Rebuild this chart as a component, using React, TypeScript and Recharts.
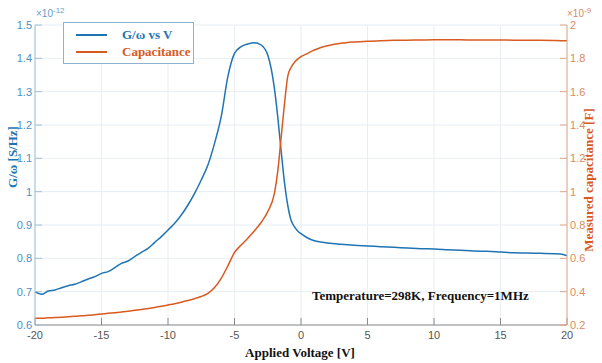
import React from "react"
import {
  LineChart,
  Line,
  XAxis,
  YAxis,
  CartesianGrid,
} from "recharts"

const voltages = [
  -20, -19.5, -19, -18.5, -18, -17.5, -17, -16.5, -16, -15.5, -15, -14.5, -14,
  -13.5, -13, -12.5, -12, -11.5, -11, -10.5, -10, -9.5, -9, -8.5, -8, -7.5, -7,
  -6.5, -6, -5.5, -5, -4.5, -4, -3.5, -3, -2.5, -2, -1.75, -1.5, -1.25, -1,
  -0.75, -0.5, -0.25, 0, 0.5, 1, 1.5, 2, 3, 4, 5, 6, 7, 8, 9, 10, 11, 12, 13, 14,
  15, 16, 17, 18, 19, 19.5, 20,
]

// G/ω, units of 1e-12 S/Hz
const conductance = [
  0.7, 0.692, 0.702, 0.705, 0.712, 0.718, 0.722, 0.73, 0.738, 0.745, 0.755,
  0.76, 0.772, 0.785, 0.792, 0.805, 0.818, 0.83, 0.848, 0.865, 0.885, 0.905,
  0.93, 0.96, 0.995, 1.035, 1.08, 1.145, 1.225, 1.345, 1.415, 1.435, 1.443,
  1.447, 1.44, 1.41, 1.31, 1.225, 1.125, 1.03, 0.96, 0.915, 0.895, 0.882, 0.874,
  0.861, 0.853, 0.849, 0.846, 0.842, 0.839, 0.837, 0.835, 0.833, 0.831, 0.829,
  0.828, 0.826, 0.824, 0.822, 0.821, 0.819, 0.817, 0.816, 0.815, 0.814, 0.813,
  0.808,
]

// measured capacitance
const capacitance = [
  0.24, 0.241, 0.243, 0.245, 0.247, 0.25, 0.252, 0.255, 0.258, 0.262, 0.266,
  0.27, 0.274, 0.278, 0.283, 0.288, 0.293, 0.299, 0.305, 0.312, 0.32, 0.328,
  0.337, 0.347, 0.358, 0.371, 0.39, 0.425, 0.48, 0.555, 0.635, 0.68, 0.72,
  0.765, 0.815, 0.88, 0.99, 1.12, 1.32, 1.52, 1.69, 1.745, 1.775, 1.795, 1.81,
  1.83, 1.85, 1.865, 1.875, 1.89, 1.898, 1.903, 1.906, 1.908, 1.909, 1.91, 1.911,
  1.911, 1.911, 1.91, 1.91, 1.91, 1.909, 1.909, 1.908, 1.907, 1.906, 1.905,
]

const xTicks = [-20, -15, -10, -5, 0, 5, 10, 15, 20]
const leftTicks = [0.6, 0.7, 0.8, 0.9, 1, 1.1, 1.2, 1.3, 1.4, 1.5]
const rightTicks = [0.2, 0.4, 0.6, 0.8, 1, 1.2, 1.4, 1.6, 1.8, 2]

const data = voltages.map((v, i) => ({
  v,
  g: conductance[i],
  c: capacitance[i],
}))

const BLUE = "#1f74b4"
const ORANGE = "#d95a1f"
const tickFont = "'Liberation Sans Narrow', 'Arial Narrow', 'Liberation Sans', sans-serif"
const labelFont = "'Liberation Serif', 'Times New Roman', serif"

function LegendBox() {
  const row = (color: string, text: string) => (
    <div style={{ display: "flex", alignItems: "center", height: 17 }}>
      <div style={{ width: 31, height: 2, background: color, marginRight: 15 }} />
      <span style={{ color, fontFamily: labelFont, fontWeight: "bold", fontSize: 13 }}>
        {text}
      </span>
    </div>
  )
  return (
    <div
      style={{
        position: "absolute",
        left: 63,
        top: 22,
        border: "1px solid #8fb3cf",
        background: "#fff",
        width: 117,
        padding: "3px 0 3px 12px",
      }}
    >
      {row(BLUE, "G/ω vs V")}
      {row(ORANGE, "Capacitance")}
    </div>
  )
}

export default function App() {
  return (
    <div style={{ position: "absolute", left: 0, top: 0, width: 602, height: 363, background: "#fff" }}>
      <LineChart
        width={602}
        height={363}
        data={data}
        margin={{ top: 25, right: 0, bottom: 0, left: 0 }}
      >
        <CartesianGrid stroke="#e8eef3" yAxisId="left" />
        <XAxis
          dataKey="v"
          type="number"
          domain={[-20, 20]}
          ticks={xTicks}
          height={38}
          stroke="#8a8a8a"
          tickSize={-7}
          tickMargin={13}
          tick={{ fill: "#555", fontSize: 11, fontFamily: tickFont }}
          label={{
            content: () => (
              <text x={300} y={357} textAnchor="middle" fontFamily={labelFont} fontWeight="bold" fontSize={13} fill="#111">
                Applied Voltage [V]
              </text>
            ),
          }}
        />
        <YAxis
          yAxisId="left"
          orientation="left"
          width={35}
          domain={[0.6, 1.5]}
          ticks={leftTicks}
          stroke="#9fc0dc"
          tickSize={-7}
          tickMargin={10}
          tick={{ fill: "#4f8fc2", fontSize: 11, fontFamily: tickFont }}
          label={{
            content: () => (
              <text
                x={17}
                y={157}
                transform="rotate(-90 17 157)"
                textAnchor="middle"
                fontFamily={labelFont}
                fontWeight="bold"
                fontSize={13}
                fill={BLUE}
              >
                G/ω [S/Hz]
              </text>
            ),
          }}
        />
        <YAxis
          yAxisId="right"
          orientation="right"
          width={35}
          domain={[0.2, 2]}
          ticks={rightTicks}
          stroke="#e0a88c"
          tickSize={-7}
          tickMargin={10}
          tick={{ fill: "#d98a62", fontSize: 11, fontFamily: tickFont }}
          label={{
            content: () => (
              <text
                x={593}
                y={180}
                transform="rotate(-90 593 180)"
                textAnchor="middle"
                fontFamily={labelFont}
                fontWeight="bold"
                fontSize={13}
                fill={ORANGE}
              >
                Measured capacitance [F]
              </text>
            ),
          }}
        />
        <Line
          yAxisId="left"
          type="monotone"
          dataKey="g"
          name="G/ω vs V"
          stroke={BLUE}
          strokeWidth={1.5}
          dot={false}
          isAnimationActive={false}
        />
        <Line
          yAxisId="right"
          type="monotone"
          dataKey="c"
          name="Capacitance"
          stroke={ORANGE}
          strokeWidth={1.5}
          dot={false}
          isAnimationActive={false}
        />
      </LineChart>
      <LegendBox />
      <div style={{ position: "absolute", left: 36, top: 6, fontFamily: tickFont, fontSize: 10, color: "#6b9bc5" }}>
        ×10<sup style={{ fontSize: 8 }}>-12</sup>
      </div>
      <div style={{ position: "absolute", left: 567, top: 6, fontFamily: tickFont, fontSize: 10, color: "#d98a62" }}>
        ×10<sup style={{ fontSize: 8 }}>-9</sup>
      </div>
      <div
        style={{
          position: "absolute",
          left: 312,
          top: 288,
          fontFamily: labelFont,
          fontWeight: "bold",
          fontSize: 13,
          color: "#111",
          whiteSpace: "nowrap",
        }}
      >
        Temperature=298K, Frequency=1MHz
      </div>
    </div>
  )
}
